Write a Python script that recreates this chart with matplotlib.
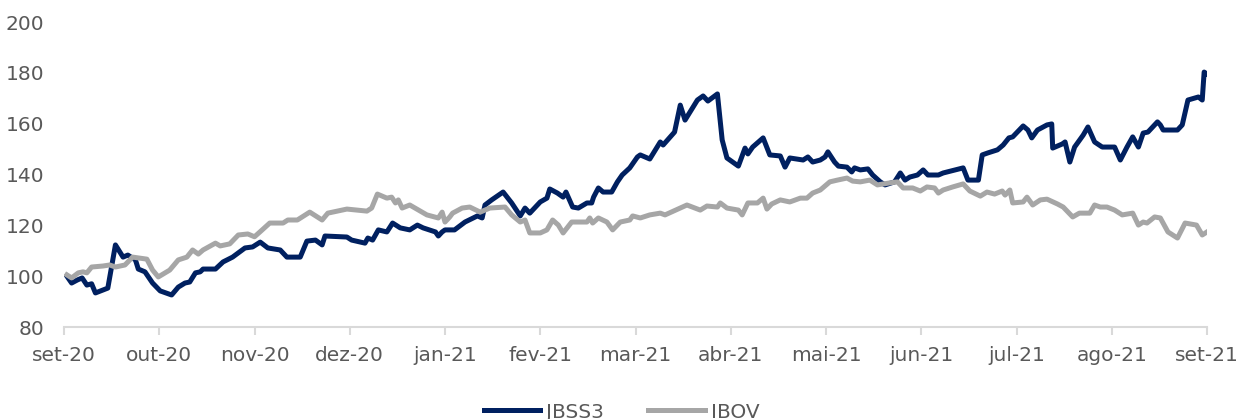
import matplotlib.pyplot as plt

# x = position in months since set-20, y = index (base 100)
jbss3_x = [0.03, 0.08, 0.14, 0.19, 0.24, 0.29, 0.33, 0.46, 0.54, 0.62, 0.67, 0.75, 0.78, 0.85, 0.93,
           1.01, 1.13, 1.20, 1.27, 1.32, 1.38, 1.43, 1.46, 1.59, 1.67, 1.77, 1.90, 1.98,
           2.06, 2.14, 2.27, 2.34, 2.48, 2.55, 2.64, 2.71, 2.74, 2.97,
           3.02, 3.16, 3.19, 3.24, 3.30, 3.39, 3.45, 3.53, 3.63, 3.71, 3.77, 3.90, 3.93, 3.97,
           4.00, 4.10, 4.21, 4.34, 4.39, 4.42, 4.49, 4.61, 4.70, 4.79, 4.84, 4.89,
           5.00, 5.07, 5.10, 5.18, 5.24, 5.27, 5.34, 5.40, 5.49, 5.54, 5.56, 5.61, 5.66, 5.75,
           5.81, 5.86, 5.94, 6.02, 6.05, 6.15, 6.26, 6.29, 6.41, 6.47, 6.52, 6.65, 6.71, 6.76,
           6.86, 6.91, 6.96, 7.08, 7.15, 7.18, 7.23, 7.34, 7.41, 7.52, 7.57, 7.62, 7.76, 7.81,
           7.86, 7.94, 7.99, 8.02, 8.09, 8.13, 8.22, 8.27, 8.30, 8.36, 8.44, 8.49, 8.57, 8.62,
           8.72, 8.78, 8.83, 8.88, 8.96, 9.02, 9.07, 9.18, 9.23, 9.44, 9.49, 9.60, 9.64, 9.70,
           9.80, 9.86, 9.92, 9.96, 10.07, 10.12, 10.16, 10.22, 10.32, 10.37, 10.38, 10.48,
           10.51, 10.56, 10.61, 10.70, 10.75, 10.82, 10.90, 11.03, 11.09, 11.16, 11.22, 11.28,
           11.33, 11.38, 11.48, 11.51, 11.54, 11.69, 11.74, 11.80, 11.91, 11.95, 11.97, 12.00]
jbss3_y = [100.0, 97.3, 98.5, 99.3, 96.5, 97.0, 93.4, 95.3, 112.3, 107.5, 108.3, 106.4, 102.8, 101.7, 97.3,
           94.2, 92.6, 95.7, 97.3, 97.7, 101.3, 101.7, 102.8, 102.8, 105.6, 107.5, 111.1, 111.5,
           113.4, 111.1, 110.3, 107.5, 107.5, 113.8, 114.2, 112.3, 115.8, 115.4,
           114.2, 113.0, 115.0, 114.2, 118.2, 117.4, 120.9, 119.0, 118.2, 120.1, 119.0, 117.4, 115.8, 117.4,
           118.2, 118.2, 121.3, 123.7, 122.9, 128.0, 130.0, 133.1, 128.8, 123.7, 126.8, 124.8,
           129.2, 130.7, 134.3, 132.7, 131.1, 133.1, 127.2, 126.8, 128.8, 128.8, 131.1, 134.7, 133.1, 133.1,
           137.1, 139.8, 142.6, 146.9, 147.7, 146.1, 152.8, 151.6, 156.7, 167.3, 161.4, 169.3, 170.9, 168.9,
           171.7, 153.6, 146.5, 143.3, 150.4, 148.1, 150.8, 154.4, 147.7, 147.3, 142.9, 146.5, 145.7, 146.9,
           144.9, 145.7, 146.9, 148.9, 144.9, 143.3, 142.9, 141.0, 142.6, 141.8, 142.2, 139.8, 137.1, 135.9,
           137.1, 140.6, 137.8, 139.0, 139.8, 141.8, 139.8, 139.8, 140.6, 142.6, 137.8, 137.8, 147.7, 148.5,
           149.7, 151.6, 154.4, 154.8, 159.1, 157.5, 154.4, 157.5, 159.5, 159.9, 150.4, 152.0,
           152.8, 144.9, 150.8, 155.5, 158.7, 152.8, 150.8, 150.8, 145.7, 150.8, 154.8, 150.8,
           156.3, 156.7, 160.7, 159.5, 157.5, 157.5, 159.5, 169.3, 170.5, 169.3, 180.3, 179.5]

ibov_x = [0.03, 0.08, 0.15, 0.20, 0.24, 0.29, 0.41, 0.48, 0.54, 0.64, 0.72, 0.87, 0.93, 0.99,
          1.11, 1.20, 1.29, 1.35, 1.41, 1.46, 1.59, 1.64, 1.74, 1.83, 1.93, 2.00, 2.06, 2.16,
          2.30, 2.35, 2.45, 2.58, 2.71, 2.77, 2.97, 3.18, 3.23, 3.29, 3.39, 3.44, 3.48, 3.51,
          3.55, 3.63, 3.81, 3.93, 3.97, 4.00, 4.05, 4.08, 4.18, 4.26, 4.37, 4.47, 4.63, 4.70,
          4.79, 4.84, 4.89, 5.00, 5.07, 5.13, 5.19, 5.24, 5.33, 5.49, 5.52, 5.55, 5.61, 5.70,
          5.76, 5.84, 5.94, 5.97, 6.05, 6.15, 6.26, 6.31, 6.47, 6.54, 6.68, 6.75, 6.86, 6.89,
          6.96, 7.08, 7.12, 7.18, 7.28, 7.34, 7.38, 7.43, 7.52, 7.62, 7.73, 7.80, 7.86, 7.94,
          8.04, 8.12, 8.22, 8.28, 8.36, 8.46, 8.54, 8.67, 8.75, 8.81, 8.91, 8.99, 9.06, 9.14,
          9.18, 9.23, 9.33, 9.44, 9.51, 9.62, 9.69, 9.77, 9.85, 9.88, 9.93, 9.96, 10.07, 10.11,
          10.17, 10.25, 10.32, 10.43, 10.49, 10.59, 10.66, 10.77, 10.82, 10.88, 10.95, 11.03,
          11.11, 11.22, 11.28, 11.33, 11.37, 11.45, 11.51, 11.59, 11.69, 11.77, 11.89, 11.95, 12.00]
ibov_y = [100.5, 99.3, 101.3, 101.7, 101.3, 103.6, 104.0, 104.4, 103.6, 104.4, 107.5, 106.7, 102.4, 99.7,
          102.4, 106.4, 107.5, 110.3, 108.7, 110.3, 113.0, 111.9, 112.7, 116.2, 116.6, 115.5, 117.5, 120.9,
          120.9, 122.1, 122.1, 125.2, 122.1, 124.8, 126.4, 125.6, 126.8, 132.3, 130.7, 131.1, 128.8, 130.0,
          126.8, 128.0, 124.1, 122.9, 125.2, 121.3, 123.3, 124.8, 126.8, 127.2, 125.2, 126.8, 127.2, 124.1,
          121.3, 122.1, 117.0, 117.0, 118.2, 122.1, 120.1, 117.0, 121.3, 121.3, 122.9, 120.9, 122.9, 121.3,
          118.2, 121.3, 122.1, 123.7, 122.9, 124.1, 124.8, 124.1, 126.8, 128.0, 126.0, 127.6, 127.2, 128.8,
          126.8, 126.0, 124.1, 128.8, 128.8, 130.7, 126.4, 128.4, 130.0, 129.2, 130.7, 130.7, 132.7, 133.9,
          137.1, 137.8, 138.6, 137.4, 137.1, 137.8, 135.9, 136.7, 137.1, 134.7, 134.7, 133.5, 135.1, 134.7,
          132.7, 133.9, 135.1, 136.3, 133.5, 131.5, 133.1, 132.3, 133.5, 131.9, 133.9, 128.8, 129.2, 131.1,
          128.0, 130.0, 130.3, 128.4, 127.2, 123.3, 124.8, 124.8, 128.0, 127.2, 127.2, 126.0,
          124.1, 124.8, 120.1, 121.3, 120.9, 123.3, 122.9, 117.4, 115.0, 120.9, 120.1, 116.2, 117.4]

months = ['set-20', 'out-20', 'nov-20', 'dez-20', 'jan-21', 'fev-21', 'mar-21',
          'abr-21', 'mai-21', 'jun-21', 'jul-21', 'ago-21', 'set-21']
y_ticks = [80, 100, 120, 140, 160, 180, 200]

text_color = '#595959'
axis_color = '#D9D9D9'

fig = plt.figure(figsize=(12.43, 4.19), dpi=100)
ax = fig.add_axes([64 / 1243, 1 - 327 / 419, (1207 - 64) / 1243, (327 - 22) / 419])

ax.plot(jbss3_x, jbss3_y, color='#002060', lw=3.6, label='JBSS3', solid_joinstyle='round')
ax.plot(ibov_x, ibov_y, color='#A6A6A6', lw=3.6, label='IBOV', solid_joinstyle='round')

ax.set_xlim(0, 12)
ax.set_ylim(80, 200)
ax.set_xticks(range(len(months)))
ax.set_xticklabels(months)
ax.set_yticks(y_ticks)

for s in ['top', 'right', 'left']:
    ax.spines[s].set_visible(False)
ax.spines['bottom'].set_color(axis_color)
ax.spines['bottom'].set_linewidth(1.5)

ax.tick_params(axis='x', colors=axis_color, length=6, width=1.5, pad=8, labelsize=14.5,
               labelcolor=text_color)
ax.tick_params(axis='y', length=0, pad=14, labelsize=14.5, labelcolor=text_color)

fig.legend(loc='center', bbox_to_anchor=(0.5, 1 - 412 / 419), ncol=2, frameon=False,
           fontsize=14.5, labelcolor=text_color, handlelength=2.8, handletextpad=0.3,
           columnspacing=2.2)

plt.savefig('out.png', dpi=100)
